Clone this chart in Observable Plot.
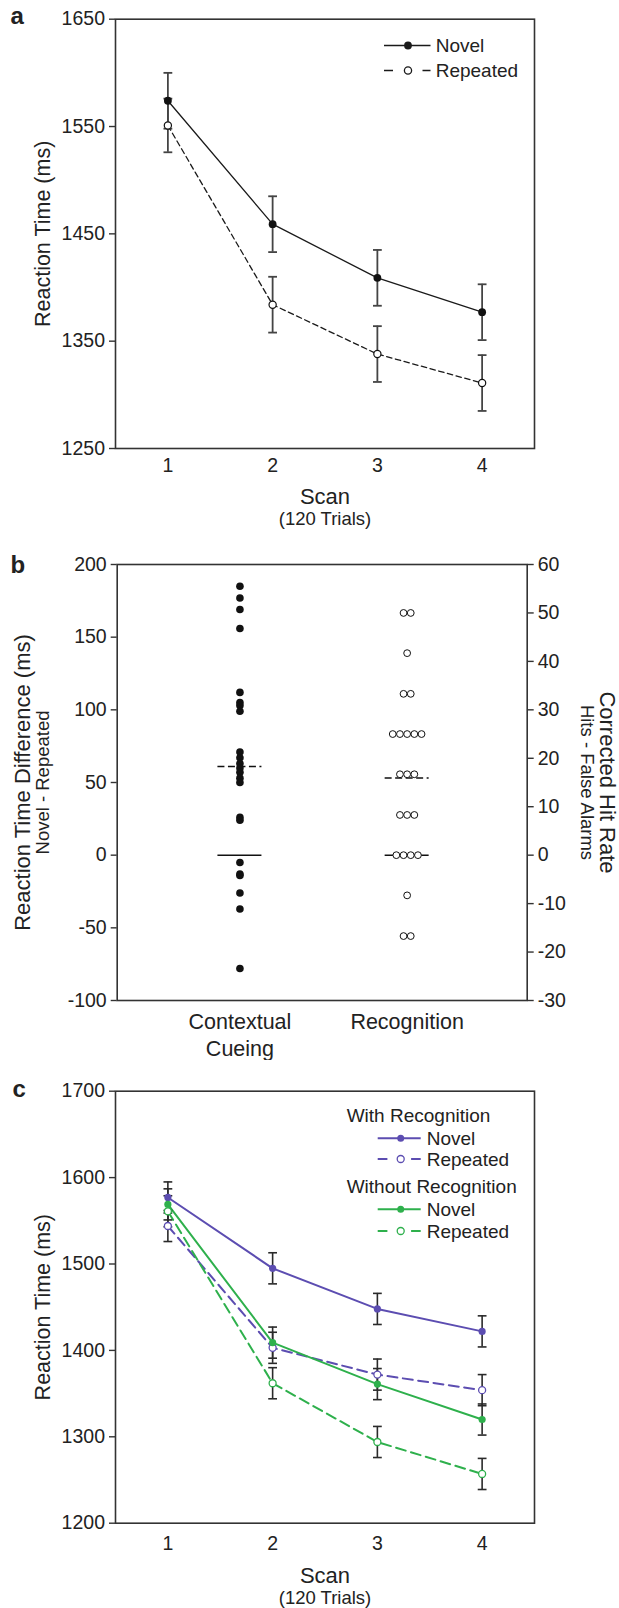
<!DOCTYPE html>
<html><head><meta charset="utf-8">
<script src="https://cdn.jsdelivr.net/npm/d3@7"></script>
<script src="https://cdn.jsdelivr.net/npm/@observablehq/plot@0.6"></script>
<style>
html,body{margin:0;padding:0;background:#fff;}
#wrap{width:619px;height:1608px;position:relative;overflow:hidden;background:#fff;}
#wrap svg{display:block;}
</style></head><body><div id="wrap"></div>
<script>
// ---------- DATA ----------
// Panel a
const scans = [1, 2, 3, 4];
const aNovel = [1574, 1459, 1409, 1377];
const aNovelSE = [26, 26, 26, 26];
const aRepeated = [1551, 1384, 1338, 1311];
const aRepeatedSE = [25, 26, 26, 26];
const aYTicks = [1250, 1350, 1450, 1550, 1650];
const aLegend = ["Novel", "Repeated"];
// Panel b
const bCategories = ["Contextual\nCueing", "Recognition"];
const cueingDiff = [185, 177, 169, 156, 112, 105, 103, 99, 71, 67, 63, 60, 57, 53, 50, 26, 24, -5, -13, -14, -26, -37, -78];
const recognitionRate = [50, 50, 41.7, 33.3, 33.3, 25, 25, 25, 25, 25, 16.7, 16.7, 16.7, 8.3, 8.3, 8.3, 0, 0, 0, 0, -8.3, -16.7, -16.7];
const bLeftDomain = [-100, 200];
const bRightDomain = [-30, 60];
const bLeftTicks = [-100, -50, 0, 50, 100, 150, 200];
const bRightTicks = [-30, -20, -10, 0, 10, 20, 30, 40, 50, 60];
// Panel c
const cWithNovel = [1577, 1495, 1448, 1422];
const cWithRepeated = [1544, 1403, 1372, 1354];
const cWithoutNovel = [1569, 1409, 1361, 1320];
const cWithoutRepeated = [1561, 1362, 1294, 1257];
const cSE = [18, 18, 18, 18];
const cYTicks = [1200, 1300, 1400, 1500, 1600, 1700];
const cLegendGroups = ["With Recognition", "Without Recognition"];
const cLegendRows = ["Novel", "Repeated"];

// ---------- STYLE ----------
const FONT = "'Liberation Sans', Arial, Helvetica, sans-serif";
const TXT = "#222";
const FRAME = "#333";
const PURPLE = "#5c4db1";
const GREEN = "#2eb04c";
const LEG_FS = 19;
const baseStyle = {fontFamily: FONT, fontSize: "19.5px", color: TXT, background: "white"};
const cap = {draw(ctx, size) { const w = Math.sqrt(size / Math.PI); ctx.moveTo(-w, 0); ctx.lineTo(w, 0); }};
const rows = (name, means, ses) => scans.map((s, i) => ({scan: s, series: name, mean: means[i], se: ses[i]}));
const wrap = document.getElementById("wrap");

function errorMarks(data, color, sw) {
  return [
    Plot.ruleX(data, {x: "scan", y1: d => d.mean - d.se, y2: d => d.mean + d.se, stroke: color, strokeWidth: sw}),
    Plot.dot(data, {x: "scan", y: d => d.mean + d.se, symbol: cap, r: 4.4, stroke: color, strokeWidth: sw, fill: "none"}),
    Plot.dot(data, {x: "scan", y: d => d.mean - d.se, symbol: cap, r: 4.4, stroke: color, strokeWidth: sw, fill: "none"})
  ];
}
function legendRow(g, o) {
  const ln = g.append("line").attr("x1", o.x0).attr("x2", o.x1).attr("y1", o.y).attr("y2", o.y)
    .attr("stroke", o.color).attr("stroke-width", o.sw);
  if (o.dash) ln.attr("stroke-dasharray", o.dash);
  g.append("circle").attr("cx", o.xm).attr("cy", o.y).attr("r", o.r)
    .attr("fill", o.filled ? o.color : "white").attr("stroke", o.color).attr("stroke-width", o.filled ? 0 : 1.3);
  g.append("text").attr("x", o.xt).attr("y", o.y).attr("dy", "0.35em").attr("font-size", o.fs)
    .attr("text-anchor", "start").attr("fill", TXT).text(o.label);
}

// ---------- PANEL A ----------
{
  const nov = rows("Novel", aNovel, aNovelSE);
  const rep = rows("Repeated", aRepeated, aRepeatedSE);
  const svg = Plot.plot({
    width: 619, height: 540,
    marginLeft: 115, marginRight: 85, marginTop: 18.7, marginBottom: 92,
    x: {domain: [0.5, 4.5]},
    y: {domain: [aYTicks[0], aYTicks[aYTicks.length - 1]]},
    style: baseStyle,
    marks: [
      Plot.frame({stroke: FRAME, strokeWidth: 1.6}),
      Plot.axisY({ticks: aYTicks, tickSize: 6, tickPadding: 4.5, tickFormat: d => String(d), label: null, stroke: FRAME, strokeWidth: 1.4}),
      Plot.axisX({ticks: scans, tickSize: 0, tickPadding: 10, tickFormat: d => String(d), label: null}),
      Plot.text(["Reaction Time (ms)"], {text: d => d, frameAnchor: "left", rotate: -90, dx: -72, fontSize: 21.5, textAnchor: "middle", lineAnchor: "middle"}),
      Plot.text(["Scan"], {text: d => d, frameAnchor: "bottom", dy: 48, fontSize: 22, lineAnchor: "middle"}),
      Plot.text(["(120 Trials)"], {text: d => d, frameAnchor: "bottom", dy: 71, fontSize: 18.5, lineAnchor: "middle"}),
      Plot.text(["a"], {text: d => d, frameAnchor: "top-left", dx: -105, dy: -3, fontSize: 24, fontWeight: "bold", textAnchor: "start", lineAnchor: "middle"}),
      Plot.line(nov, {x: "scan", y: "mean", stroke: "#1a1a1a", strokeWidth: 1.3}),
      Plot.line(rep, {x: "scan", y: "mean", stroke: "#1a1a1a", strokeWidth: 1.3, strokeDasharray: "5.5,3.5"}),
      ...errorMarks(nov, "#444", 1.8),
      ...errorMarks(rep, "#444", 1.8),
      Plot.dot(nov, {x: "scan", y: "mean", r: 3.9, fill: "#111", stroke: "none"}),
      Plot.dot(rep, {x: "scan", y: "mean", r: 3.6, fill: "white", stroke: "#111", strokeWidth: 1.2})
    ]
  });
  const g = d3.select(svg).append("g").attr("font-family", FONT);
  legendRow(g, {x0: 384, x1: 430.5, xm: 408, xt: 435.7, y: 45.5, color: "#1a1a1a", sw: 1.3, r: 3.9, filled: true, label: aLegend[0], fs: LEG_FS});
  legendRow(g, {x0: 384, x1: 430.5, xm: 408, xt: 435.7, y: 70.5, color: "#1a1a1a", sw: 1.3, r: 3.6, filled: false, dash: "9,29.5,9,100", label: aLegend[1], fs: LEG_FS});
  wrap.appendChild(svg);
}

// ---------- PANEL B ----------
{
  const W = 619, mL = 116.7, mR = 92.3;
  const xDomain = [0.266, 2.718];
  const unitsPerPx = (xDomain[1] - xDomain[0]) / (W - mL - mR);
  const toLeft = d3.scaleLinear(bRightDomain, bLeftDomain);
  const step = 7.2 * unitsPerPx;
  const halfLine = 22 * unitsPerPx;
  const cue = cueingDiff.map(v => ({x: 1, y: v}));
  const rec = [];
  d3.groups(recognitionRate, v => v).forEach(([v, arr]) => {
    arr.forEach((_, i) => rec.push({x: 2 + (i - (arr.length - 1) / 2) * step, y: toLeft(v)}));
  });
  const meanCue = d3.mean(cueingDiff);
  const meanRec = toLeft(d3.mean(recognitionRate));
  const refs = [{x: 1, mean: meanCue, zero: 0}, {x: 2, mean: meanRec, zero: toLeft(0)}];
  const svg = Plot.plot({
    width: W, height: 520,
    marginLeft: mL, marginRight: mR, marginTop: 24, marginBottom: 60,
    x: {domain: xDomain, axis: null},
    y: {domain: bLeftDomain},
    style: baseStyle,
    marks: [
      Plot.frame({stroke: FRAME, strokeWidth: 1.6}),
      Plot.axisY({ticks: bLeftTicks, tickSize: 6, tickPadding: 4.5, tickFormat: d => String(d), label: null, stroke: FRAME, strokeWidth: 1.4}),
      Plot.axisY({anchor: "right", ticks: bRightTicks.map(toLeft), tickSize: 6, tickPadding: 4.5, tickFormat: d => String(Math.round(toLeft.invert(d))), label: null, stroke: FRAME, strokeWidth: 1.4}),
      Plot.text(bCategories, {x: (d, i) => i + 1, text: d => d, frameAnchor: "bottom", dy: 9.2, fontSize: 21.5, lineAnchor: "top", lineHeight: 1.26}),
      Plot.text(["Reaction Time Difference (ms)"], {text: d => d, frameAnchor: "left", rotate: -90, dx: -94.7, fontSize: 22, textAnchor: "middle", lineAnchor: "middle"}),
      Plot.text(["Novel - Repeated"], {text: d => d, frameAnchor: "left", rotate: -90, dx: -73.7, fontSize: 18.5, textAnchor: "middle", lineAnchor: "middle"}),
      Plot.text(["Corrected Hit Rate"], {text: d => d, frameAnchor: "right", rotate: 90, dx: 80.3, fontSize: 22, textAnchor: "middle", lineAnchor: "middle"}),
      Plot.text(["Hits - False Alarms"], {text: d => d, frameAnchor: "right", rotate: 90, dx: 59.6, fontSize: 18.5, textAnchor: "middle", lineAnchor: "middle"}),
      Plot.text(["b"], {text: d => d, frameAnchor: "top-left", dx: -106.7, dy: 1, fontSize: 24, fontWeight: "bold", textAnchor: "start", lineAnchor: "middle"}),
      Plot.ruleY(refs, {y: "zero", x1: d => d.x - halfLine, x2: d => d.x + halfLine, stroke: "#111", strokeWidth: 1.5}),
      Plot.ruleY(refs, {y: "mean", x1: d => d.x - halfLine, x2: d => d.x + halfLine, stroke: "#111", strokeWidth: 1.5, strokeDasharray: "7,3.5"}),
      Plot.dot(cue, {x: "x", y: "y", r: 3.8, fill: "#111", stroke: "none"}),
      Plot.dot(rec, {x: "x", y: "y", r: 3.4, fill: "white", stroke: "#111", strokeWidth: 1})
    ]
  });
  wrap.appendChild(svg);
}

// ---------- PANEL C ----------
{
  const wn = rows("WithNovel", cWithNovel, cSE);
  const wr = rows("WithRepeated", cWithRepeated, cSE);
  const on = rows("WithoutNovel", cWithoutNovel, cSE);
  const or = rows("WithoutRepeated", cWithoutRepeated, cSE);
  const dash = "10,5.5";
  const svg = Plot.plot({
    width: 619, height: 548,
    marginLeft: 115, marginRight: 85, marginTop: 30.7, marginBottom: 85.3,
    x: {domain: [0.5, 4.5]},
    y: {domain: [cYTicks[0], cYTicks[cYTicks.length - 1]]},
    style: baseStyle,
    marks: [
      Plot.frame({stroke: FRAME, strokeWidth: 1.6}),
      Plot.axisY({ticks: cYTicks, tickSize: 6, tickPadding: 4.5, tickFormat: d => String(d), label: null, stroke: FRAME, strokeWidth: 1.4}),
      Plot.axisX({ticks: scans, tickSize: 0, tickPadding: 13.3, tickFormat: d => String(d), label: null}),
      Plot.text(["Reaction Time (ms)"], {text: d => d, frameAnchor: "left", rotate: -90, dx: -72, fontSize: 21.5, textAnchor: "middle", lineAnchor: "middle"}),
      Plot.text(["Scan"], {text: d => d, frameAnchor: "bottom", dy: 52.3, fontSize: 22, lineAnchor: "middle"}),
      Plot.text(["(120 Trials)"], {text: d => d, frameAnchor: "bottom", dy: 75.3, fontSize: 18.5, lineAnchor: "middle"}),
      Plot.text(["c"], {text: d => d, frameAnchor: "top-left", dx: -103, dy: -2, fontSize: 24, fontWeight: "bold", textAnchor: "start", lineAnchor: "middle"}),
      Plot.line(wn, {x: "scan", y: "mean", stroke: PURPLE, strokeWidth: 2}),
      Plot.line(wr, {x: "scan", y: "mean", stroke: PURPLE, strokeWidth: 2, strokeDasharray: dash}),
      Plot.line(on, {x: "scan", y: "mean", stroke: GREEN, strokeWidth: 2}),
      Plot.line(or, {x: "scan", y: "mean", stroke: GREEN, strokeWidth: 2, strokeDasharray: dash}),
      ...errorMarks(wn, "#2a2a2a", 1.6),
      ...errorMarks(wr, "#2a2a2a", 1.6),
      ...errorMarks(on, "#2a2a2a", 1.6),
      ...errorMarks(or, "#2a2a2a", 1.6),
      Plot.dot(wn, {x: "scan", y: "mean", r: 3.6, fill: PURPLE, stroke: "none"}),
      Plot.dot(wr, {x: "scan", y: "mean", r: 3.5, fill: "white", stroke: PURPLE, strokeWidth: 1.3}),
      Plot.dot(on, {x: "scan", y: "mean", r: 3.6, fill: GREEN, stroke: "none"}),
      Plot.dot(or, {x: "scan", y: "mean", r: 3.5, fill: "white", stroke: GREEN, strokeWidth: 1.3})
    ]
  });
  const g = d3.select(svg).append("g").attr("font-family", FONT);
  const head = (label, y) => g.append("text").attr("x", 346.7).attr("y", y).attr("dy", "0.35em").attr("font-size", LEG_FS)
    .attr("text-anchor", "start").attr("fill", TXT).text(label);
  const L = {x0: 377.7, x1: 420.7, xm: 400.7, xt: 426.7, sw: 2, r: 3.5, fs: LEG_FS};
  head(cLegendGroups[0], 55);
  legendRow(g, {...L, y: 78.3, color: PURPLE, filled: true, label: cLegendRows[0]});
  legendRow(g, {...L, y: 99, color: PURPLE, filled: false, dash: "9.7,23.7,9.7,100", label: cLegendRows[1]});
  head(cLegendGroups[1], 126.7);
  legendRow(g, {...L, y: 149.3, color: GREEN, filled: true, label: cLegendRows[0]});
  legendRow(g, {...L, y: 171, color: GREEN, filled: false, dash: "9.7,23.7,9.7,100", label: cLegendRows[1]});
  wrap.appendChild(svg);
}
</script>
</body></html>
